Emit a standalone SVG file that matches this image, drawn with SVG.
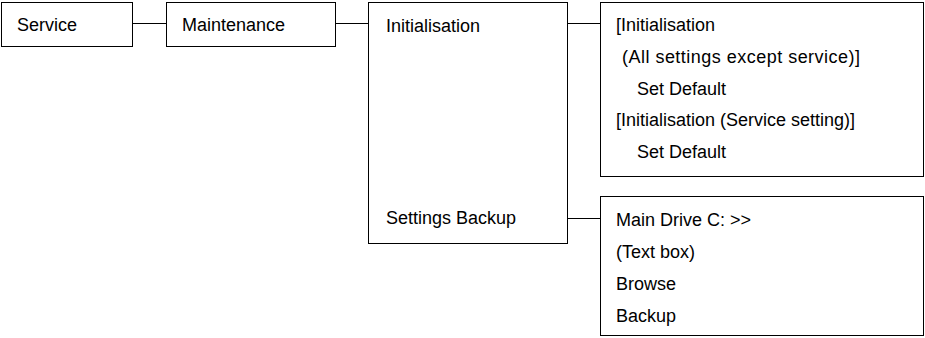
<svg xmlns="http://www.w3.org/2000/svg" width="925" height="338" viewBox="0 0 925 338">
<style>
rect{fill:#fff;stroke:#000;stroke-width:1}
line{stroke:#000;stroke-width:1}
text{font-family:"Liberation Sans",Arial,sans-serif;font-size:18px;fill:#000}
</style>
<rect x="0" y="0" width="925" height="338" style="stroke:none"/>
<g id="connectors">
<line x1="132.5" y1="23.5" x2="166.5" y2="23.5"/>
<line x1="335.5" y1="23.5" x2="368.5" y2="23.5"/>
<line x1="567.5" y1="23.5" x2="600.5" y2="23.5"/>
<line x1="567.5" y1="218.5" x2="600.5" y2="218.5"/>
</g>
<g id="service">
<rect x="1.5" y="2.5" width="131" height="44"/>
<text x="17" y="31">Service</text>
</g>
<g id="maintenance">
<rect x="166.5" y="2.5" width="169" height="44"/>
<text x="182" y="31">Maintenance</text>
</g>
<g id="menu">
<rect x="368.5" y="2.5" width="199" height="241"/>
<text x="386" y="32">Initialisation</text>
<text x="386" y="224">Settings Backup</text>
</g>
<g id="init-options">
<rect x="600.5" y="2.5" width="323" height="174"/>
<text x="616" y="31">[Initialisation</text>
<text x="622" y="63" textLength="238">(All settings except service)]</text>
<text x="637" y="95">Set Default</text>
<text x="616" y="126">[Initialisation (Service setting)]</text>
<text x="637" y="158">Set Default</text>
</g>
<g id="backup-options">
<rect x="600.5" y="196.5" width="323" height="139"/>
<text x="616" y="226">Main Drive C: &gt;&gt;</text>
<text x="616" y="258">(Text box)</text>
<text x="616" y="290">Browse</text>
<text x="616" y="322">Backup</text>
</g>
</svg>
